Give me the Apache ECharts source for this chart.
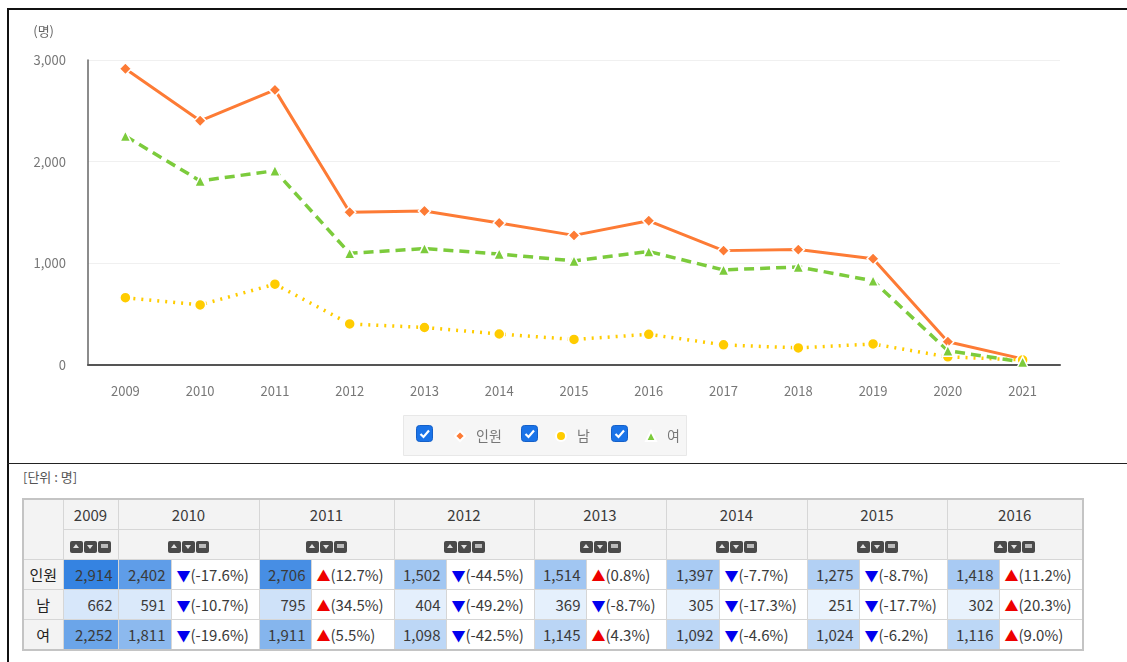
<!DOCTYPE html>
<html>
<head>
<meta charset="utf-8">
<script src="https://cdn.jsdelivr.net/npm/echarts@6/dist/echarts.min.js"></script>
<style>
  html, body { margin: 0; padding: 0; background: #fff; }
  body { width: 1127px; height: 662px; overflow: hidden; position: relative;
    font-family: 'Noto Sans CJK KR', 'Noto Sans', sans-serif; }
  .frame { position: absolute; left: 7px; top: 8px; width: 1130px; height: 660px;
    border-top: 2px solid #111; border-left: 2px solid #111; }
  .divider { position: absolute; left: 7px; top: 463px; width: 1130px; height: 0; border-top: 1px solid #222; }
  #chart { position: absolute; left: 0; top: 0; width: 1127px; height: 463px; }
  .unit { position: absolute; left: 23px; top: 467px; font-size: 13px; color: #555; }
  table { position: absolute; left: 22px; top: 498px; border-collapse: collapse; table-layout: fixed;
    border: 2px solid #c4c4c4; font-size: 15px; color: #3a3a3a; }
  td, th { border: 1px solid #d6d6d6; height: 29px; padding: 0 5px; white-space: nowrap; overflow: hidden; }
  th { background: #f3f3f3; font-weight: normal; text-align: center; }
  th.lbl { font-weight: normal; color: #222; }
  td.val { text-align: right; }
  td.pct { text-align: left; background: #fff; }
  .dn { color: #0000ee; font-size: 14px; }
  .up { color: #ee0000; font-size: 14px; }
  .btns { display: inline-flex; gap: 1px; vertical-align: middle; }
  .btns span { width: 13px; height: 12px; background: #4a4a4a; border-radius: 2px; position: relative; display: inline-block; }
  .btns span.u::after { content: ''; position: absolute; left: 3px; top: 3px; border-left: 3.5px solid transparent;
    border-right: 3.5px solid transparent; border-bottom: 4px solid #e0e0e0; }
  .btns span.d::after { content: ''; position: absolute; left: 3px; top: 4px; border-left: 3.5px solid transparent;
    border-right: 3.5px solid transparent; border-top: 4px solid #e0e0e0; }
  .btns span.e::after { content: ''; position: absolute; left: 3px; top: 3px; width: 7px; height: 4px;
    background: #bbb; }
</style>
</head>
<body>
<div class="frame"></div>
<div id="chart"></div>
<div class="divider"></div>
<div class="unit">[단위 : 명]</div>
<table id="tbl"></table>
<script>
// 연도별 인원 (명)
var years = ['2009','2010','2011','2012','2013','2014','2015','2016','2017','2018','2019','2020','2021'];
var totalData = [2914, 2402, 2706, 1502, 1514, 1397, 1275, 1418, 1125, 1135, 1045, 228, 60];
var maleData = [662, 591, 795, 404, 369, 305, 251, 302, 198, 168, 207, 80, 50];
var femaleData = [2252, 1811, 1911, 1098, 1145, 1092, 1024, 1116, 935, 965, 828, 140, 30];
var yTicks = [0, 1000, 2000, 3000];

// 표에 보이는 연도 수와 증감률 (%)
var tableYears = 8;
var totalPct = [null, -17.6, 12.7, -44.5, 0.8, -7.7, -8.7, 11.2];
var malePct = [null, -10.7, 34.5, -49.2, -8.7, -17.3, -17.7, 20.3];
var femalePct = [null, -19.6, 5.5, -42.5, 4.3, -4.6, -6.2, 9.0];

var font = "'Noto Sans CJK KR', 'Noto Sans', sans-serif";
var cOrange = '#fd7b35', cYellow = '#ffcc00', cGreen = '#7ccb3c';

var chart = echarts.init(document.getElementById('chart'));

function checkbox(x) {
  return {
    type: 'group', left: x, top: 425,
    children: [
      { type: 'rect', shape: { x: 0, y: 0, width: 16, height: 16, r: 3 }, style: { fill: '#1a73e8', stroke: '#1560c8', lineWidth: 1 } },
      { type: 'polyline', shape: { points: [[4, 8.5], [7, 11.5], [12.5, 5]] }, style: { stroke: '#fff', lineWidth: 2.2, fill: null } }
    ]
  };
}

function legendItem(name, x, icon) {
  return {
    data: [{ name: name, icon: icon }],
    left: x, top: 424, itemWidth: 10, itemHeight: 10,
    textStyle: { color: '#777', fontSize: 14, fontFamily: font, padding: [0, 0, 0, 6] },
    selectedMode: false
  };
}

var option = {
  animation: false,
  textStyle: { fontFamily: font },
  grid: { left: 88, right: 67, top: 60, bottom: 98 },
  graphic: [
    { type: 'rect', left: 403, top: 415, shape: { width: 283, height: 40 }, style: { fill: '#f6f6f6', stroke: '#e8e8e8' }, z: -1 },
    checkbox(416), checkbox(521), checkbox(611)
  ],
  legend: [
    legendItem('인원', 449, 'diamond'),
    legendItem('남', 550, 'circle'),
    legendItem('여', 640, 'triangle')
  ],
  xAxis: {
    type: 'category', data: years, boundaryGap: true,
    axisLine: { lineStyle: { color: '#555', width: 2 } },
    axisTick: { show: false },
    axisLabel: { color: '#777', fontSize: 13, margin: 20 }
  },
  yAxis: {
    type: 'value', min: yTicks[0], max: yTicks[yTicks.length - 1], interval: 1000,
    name: '(명)', nameGap: 22,
    nameTextStyle: { color: '#666', fontSize: 13, align: 'right', padding: [0, 34, 0, 0] },
    axisLine: { show: true, lineStyle: { color: '#666', width: 1.5 } },
    axisTick: { show: false },
    splitLine: { lineStyle: { color: '#f0f0f0' } },
    axisLabel: { color: '#777', fontSize: 13, margin: 22, formatter: function (v) { return v.toLocaleString('en-US'); } }
  },
  series: [
    {
      name: '인원', type: 'line', data: totalData, symbol: 'diamond', symbolSize: 12,
      lineStyle: { color: cOrange, width: 3 },
      itemStyle: { color: cOrange, borderColor: '#fff', borderWidth: 1.5 }
    },
    {
      name: '남', type: 'line', data: maleData, symbol: 'circle', symbolSize: 11,
      lineStyle: { color: cYellow, width: 3.5, type: [2, 6] },
      itemStyle: { color: cYellow, borderColor: '#fff', borderWidth: 1.5 }
    },
    {
      name: '여', type: 'line', data: femaleData, symbol: 'triangle', symbolSize: 11,
      lineStyle: { color: cGreen, width: 3.5, type: [10, 6] },
      itemStyle: { color: cGreen, borderColor: '#fff', borderWidth: 1.5 }
    }
  ]
};
chart.setOption(option);

// 표 만들기
function cellColor(v) {
  var t = Math.pow(v / 3000, 1.3);
  var a = [242, 248, 254], b = [46, 127, 224];
  var c = a.map(function (x, i) { return Math.round(x + (b[i] - x) * t); });
  return 'rgb(' + c.join(',') + ')';
}
function fmt(v) { return v.toLocaleString('en-US'); }

var colW = [40, 55, 53, 88, 52, 83, 52, 88, 52, 80, 53, 88, 52, 88, 52, 84];
var html = '<colgroup>' + colW.map(function (w) { return '<col style="width:' + w + 'px">'; }).join('') + '</colgroup>';
var btns = '<span class="btns"><span class="u"></span><span class="d"></span><span class="e"></span></span>';
html += '<tr><th rowspan="2"></th>';
for (var i = 0; i < tableYears; i++) html += '<th colspan="' + (i === 0 ? 1 : 2) + '">' + years[i] + '</th>';
html += '</tr><tr>';
for (var i = 0; i < tableYears; i++) html += '<th colspan="' + (i === 0 ? 1 : 2) + '">' + btns + '</th>';
html += '</tr>';
var rows = [['인원', totalData, totalPct], ['남', maleData, malePct], ['여', femaleData, femalePct]];
rows.forEach(function (r) {
  html += '<tr><th class="lbl">' + r[0] + '</th>';
  for (var i = 0; i < tableYears; i++) {
    html += '<td class="val" style="background:' + cellColor(r[1][i]) + '">' + fmt(r[1][i]) + '</td>';
    if (i > 0) {
      var p = r[2][i];
      html += '<td class="pct">' + (p < 0 ? '<span class="dn">▼</span>' : '<span class="up">▲</span>') + '(' + p.toFixed(1) + '%)</td>';
    }
  }
  html += '</tr>';
});
document.getElementById('tbl').innerHTML = html;
</script>
</body>
</html>
